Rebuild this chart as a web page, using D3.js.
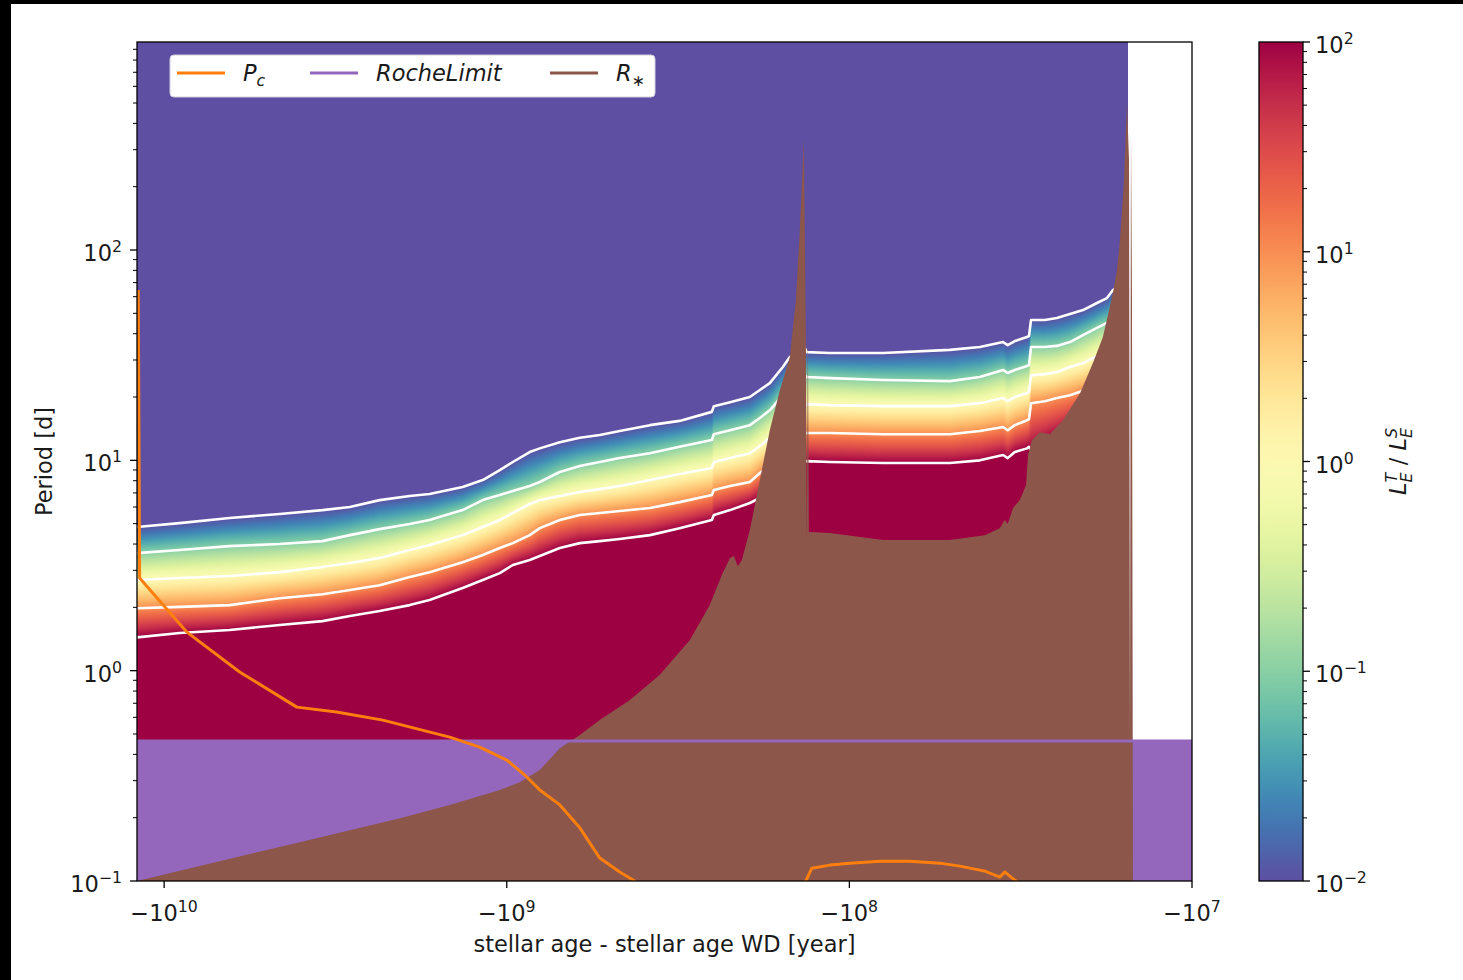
<!DOCTYPE html>
<html>
<head>
<meta charset="utf-8">
<script src="https://cdn.jsdelivr.net/npm/d3@7"></script>
<style>
  html, body { margin: 0; padding: 0; background: #fff; }
  svg { display: block; font-family: "DejaVu Sans", sans-serif; }
</style>
</head>
<body>
<svg id="chart" width="1463" height="980"></svg>
<script>
// ---- data -------------------------------------------------------------
// stellar age minus WD formation age [yr] at which the luminosity-ratio contours are sampled
const gridAges = [-1.20e10,-9.01e9,-6.44e9,-4.60e9,-3.45e9,-2.87e9,-2.35e9,-1.92e9,-1.68e9,-1.345e9,
  -1.175e9,-1.048e9,-9.60e8,-8.57e8,-8.01e8,-7.00e8,-6.12e8,-5.35e8,-4.68e8,-3.82e8,
  -3.13e8,-2.52e8,-2.486e8,-2.23e8,-1.952e8,-1.825e8,-1.707e8,-1.564e8,-1.492e8,-1.395e8,
  -1.349e8,-1.331e8,-1.140e8,-7.98e7,-5.09e7,-4.16e7,-3.56e7,-3.45e7,-3.29e7,-3.03e7,
  -2.99e7,-2.95e7,-2.69e7,-2.48e7,-2.27e7,-2.08e7,-1.894e7,-1.771e7,-1.701e7,-1.623e7,-1.538e7];

// contour levels of L_E^T / L_E^S
const ratioLevels = [1e-2, 1e-1, 1e0, 1e1, 1e2];

// orbital period [d] of each contour level along gridAges
const periodRatio1em2 = [4.82,5.03,5.32,5.56,5.80,6.00,6.47,6.77,6.92,7.47,
  8.06,8.99,9.82,10.95,11.4,12.2,12.8,13.2,13.8,14.7,
  15.4,17.0,18.1,18.9,20.0,21.6,23.3,27.8,31.0,33.5,
  34.2,32.7,32.4,32.4,33.5,34.6,36.5,35.3,36.9,38.6,
  39.0,46.5,46.5,47.5,49.6,51.8,56.0,59.1,64.5,68.2,72.0];
const periodRatio1em1 = [3.62,3.75,3.91,4.00,4.13,4.41,4.71,4.98,5.20,5.80,
  6.47,6.84,7.15,7.55,7.89,8.80,9.40,9.82,10.25,10.8,
  11.6,12.5,13.3,13.9,14.7,15.9,17.3,20.4,22.3,24.1,
  25.2,24.9,24.6,24.1,23.8,24.9,26.9,26.0,26.9,28.1,
  28.4,34.6,34.6,35.0,36.5,39.4,42.6,45.0,47.5,50.7,53.6];
const periodRatio1e0 = [2.70,2.76,2.82,2.94,3.11,3.25,3.43,3.75,3.96,4.41,
  4.82,5.20,5.62,6.20,6.47,6.77,7.07,7.30,7.55,8.06,
  8.61,9.19,9.82,10.25,10.8,11.7,12.8,14.7,16.1,17.3,
  18.3,18.5,18.3,18.1,18.1,18.7,19.8,19.1,20.0,20.9,
  21.1,25.4,25.7,26.3,27.8,29.0,31.3,33.5,35.3,37.3,39.4];
const periodRatio1e1 = [1.98,2.01,2.05,2.21,2.31,2.42,2.55,2.79,2.94,3.28,
  3.55,3.83,4.04,4.41,4.76,5.20,5.50,5.62,5.74,5.93,
  6.33,6.84,7.22,7.55,7.89,8.70,9.40,10.6,11.6,12.5,
  13.3,13.5,13.5,13.3,13.3,13.8,14.4,13.9,14.7,15.5,
  15.7,18.7,19.1,19.8,20.4,21.4,23.1,24.6,26.0,27.5,29.0];
const periodRatio1e2 = [1.44,1.51,1.56,1.65,1.72,1.82,1.92,2.05,2.17,2.47,
  2.70,2.91,3.18,3.36,3.51,3.83,4.04,4.13,4.23,4.41,
  4.76,5.20,5.50,5.80,6.27,6.62,7.07,7.80,8.42,8.99,
  9.82,9.92,9.82,9.71,9.71,10.0,10.6,10.25,10.95,11.4,
  11.6,11.2,12.2,13.05,14.25,15.4,16.6,17.7,18.7,19.8,20.9];

// orbital period at the stellar surface, R_*
const rStarAges = [-1.20e10,-7.88e9,-4.02e9,-2.05e9,-1.467e9,-1.048e9,-9.16e8,-8.01e8,-7.00e8,-6.12e8,
  -5.35e8,-4.37e8,-3.58e8,-2.92e8,-2.555e8,-2.357e8,-2.23e8,-2.174e8,-2.116e8,-2.06e8,
  -1.952e8,-1.825e8,-1.707e8,-1.595e8,-1.492e8,-1.433e8,-1.395e8,-1.358e8,-1.340e8,-1.331e8,
  -1.322e8,-1.313e8,-1.140e8,-7.98e7,-5.09e7,-4.02e7,-3.64e7,-3.52e7,-3.45e7,-3.33e7,
  -3.18e7,-3.05e7,-3.01e7,-2.93e7,-2.78e7,-2.60e7,-2.38e7,-2.12e7,-1.946e7,-1.82e7,
  -1.701e7,-1.656e7,-1.623e7,-1.579e7,-1.548e7,-1.527e7,-1.517e7,-1.507e7,-1.497e7,-1.487e7];
const rStarPeriod = [0.1,0.1177,0.153,0.199,0.2296,0.271,0.295,0.337,0.428,0.494,
  0.582,0.725,0.953,1.40,2.05,2.85,3.43,3.51,3.14,3.36,
  4.66,8.06,13.9,21.6,31.0,57.8,124.5,334,41.7,4.18,
  43.0,4.56,4.51,4.18,4.18,4.41,4.76,5.20,4.98,5.93,
  6.47,7.63,10.6,12.5,13.6,13.3,15.5,20.9,29.0,38.6,
  62.4,80.3,111.6,215,500,268,0.494,372,59.8,0.1];

// critical period P_c
const pcAges = [-1.19e10,-1.179e10,-8.60e9,-6.02e9,-4.10e9,-3.14e9,-2.30e9,-1.467e9,-1.199e9,-1.0e9,
  -8.86e8,-8.01e8,-7.00e8,-6.12e8,-5.35e8,-4.68e8,-4.23e8,-3.0e8,-2.0e8,-1.5e8,
  -1.340e8,-1.287e8,-1.140e8,-9.97e7,-8.14e7,-6.66e7,-5.44e7,-4.76e7,-4.02e7,-3.64e7,
  -3.52e7,-3.40e7,-3.18e7,-2.8e7];
const pcPeriod = [64.5,2.76,1.53,0.985,0.671,0.636,0.582,0.483,0.433,0.376,
  0.319,0.271,0.230,0.179,0.1285,0.1103,0.1,0.06,0.07,0.09,
  0.1,0.1151,0.1190,0.1216,0.1243,0.1243,0.1216,0.1177,0.1114,0.1043,
  0.1103,0.1055,0.0967,0.085];

// Roche limit
const rocheAges = [-1.2e10, -1e7];
const rochePeriod = [0.463, 0.463];

// axis ticks
const xTickValues = [-1e10, -1e9, -1e8, -1e7];
const xTickExponents = ["10", "9", "8", "7"];
const yTickValues = [0.1, 1, 10, 100];
const yTickExponents = ["\u22121", "0", "1", "2"];
const cbTickValues = [1e-2, 1e-1, 1e0, 1e1, 1e2];
const cbTickExponents = ["\u22122", "\u22121", "0", "1", "2"];

// ---- layout -------------------------------------------------------------
const W = 1463, H = 980;
const M = { left: 137, right: 1192, top: 42, bottom: 881 };
const CB = { left: 1259, right: 1303, top: 42, bottom: 881 };
const FS = 22.5;
const SMALL = FS * 0.7;

const C = { pc: "#ff7f0e", roche: "#9467bd", rstar: "#8c564b" };

const x = d3.scaleLog().domain([-1.2e10, -1e7]).range([M.left, M.right]);
const y = d3.scaleLog().domain([0.1, 975]).range([M.bottom, M.top]);
const cbY = d3.scaleLog().domain([1e-2, 1e2]).range([CB.bottom, CB.top]);
const colorScale = d3.scaleSequentialLog(t => d3.interpolateSpectral(1 - t)).domain([1e-2, 1e2]);

const svg = d3.select("#chart");
svg.append("rect").attr("width", W).attr("height", H).attr("fill", "#fff");
// dark frame strips along the left and top edges
svg.append("rect").attr("x", 0).attr("y", 0).attr("width", 11).attr("height", H).attr("fill", "#000");
svg.append("rect").attr("x", 0).attr("y", 0).attr("width", W).attr("height", 4).attr("fill", "#000");

const defs = svg.append("defs");
defs.append("clipPath").attr("id", "plotClip")
  .append("rect").attr("x", M.left).attr("y", M.top)
  .attr("width", M.right - M.left).attr("height", M.bottom - M.top);

// ---- heat map of the luminosity ratio ----------------------------------
const contours = [periodRatio1em2, periodRatio1em1, periodRatio1e0, periodRatio1e1, periodRatio1e2];
const logLevels = ratioLevels.map(Math.log10);
const colX = gridAges.map(a => x(a));
const hx0 = Math.floor(colX[0]);
const hx1 = Math.ceil(colX[colX.length - 1]);
const hw = hx1 - hx0, hh = M.bottom - M.top;
const canvas = document.createElement("canvas");
canvas.width = hw; canvas.height = hh;
const ctx = canvas.getContext("2d");
const img = ctx.createImageData(hw, hh);
const lut = d3.range(1001).map(i => d3.rgb(colorScale(Math.pow(10, -2 + 4 * i / 1000))));
let seg = 0;
for (let px = 0; px < hw; px++) {
  const cx = hx0 + px + 0.5;
  while (seg < colX.length - 2 && cx > colX[seg + 1]) seg++;
  const f = Math.max(0, Math.min(1, (cx - colX[seg]) / (colX[seg + 1] - colX[seg])));
  const ys = contours.map(c => { const a = y(c[seg]), b = y(c[seg + 1]); return a + (b - a) * f; });
  const level = d3.scaleLinear().domain(ys).range(logLevels).clamp(true);
  for (let py = 0; py < hh; py++) {
    const v = level(M.top + py + 0.5);
    const col = lut[Math.round((v + 2) / 4 * 1000)];
    const k = (py * hw + px) * 4;
    img.data[k] = col.r; img.data[k + 1] = col.g; img.data[k + 2] = col.b; img.data[k + 3] = 255;
  }
}
ctx.putImageData(img, 0, 0);

const plot = svg.append("g").attr("clip-path", "url(#plotClip)");
plot.append("image")
  .attr("href", canvas.toDataURL())
  .attr("x", hx0).attr("y", M.top).attr("width", hw).attr("height", hh)
  .attr("preserveAspectRatio", "none");

// white contour lines
const contourLine = d3.line().x((d, i) => x(gridAges[i])).y(d => y(d));
contours.forEach(c => {
  plot.append("path").attr("d", contourLine(c))
    .attr("fill", "none").attr("stroke", "#fff").attr("stroke-width", 2.6)
    .attr("stroke-linejoin", "round");
});

// Roche limit region
const rocheArea = d3.area().x((d, i) => x(rocheAges[i])).y0(M.bottom).y1(d => y(d));
plot.append("path").attr("d", rocheArea(rochePeriod)).attr("fill", C.roche);

// stellar radius region
const rArea = d3.area().x((d, i) => x(rStarAges[i])).y0(M.bottom).y1(d => y(d));
plot.append("path").attr("d", rArea(rStarPeriod)).attr("fill", C.rstar);

// Roche limit line
const rocheLine = d3.line().x((d, i) => x(rocheAges[i])).y(d => y(d));
plot.append("path").attr("d", rocheLine(rochePeriod))
  .attr("fill", "none").attr("stroke", C.roche).attr("stroke-width", 2.8);

// critical period
const pcLine = d3.line().x((d, i) => x(pcAges[i])).y(d => y(d));
plot.append("path").attr("d", pcLine(pcPeriod))
  .attr("fill", "none").attr("stroke", C.pc).attr("stroke-width", 3)
  .attr("stroke-linejoin", "round");

// frame
svg.append("rect").attr("x", M.left).attr("y", M.top)
  .attr("width", M.right - M.left).attr("height", M.bottom - M.top)
  .attr("fill", "none").attr("stroke", "#000").attr("stroke-width", 1.3);

// ---- axes ----------------------------------------------------------------
function powText(sel, base, exp) {
  sel.append("tspan").text(base);
  sel.append("tspan").attr("dy", -9).attr("font-size", SMALL + "px").text(exp);
}

const axes = svg.append("g").attr("font-size", FS + "px").attr("fill", "#1a1a1a");

// x ticks
xTickValues.forEach((v, i) => {
  const tx = x(v);
  axes.append("line").attr("x1", tx).attr("x2", tx).attr("y1", M.bottom).attr("y2", M.bottom + 7)
    .attr("stroke", "#000").attr("stroke-width", 1.3);
  const t = axes.append("text").attr("x", tx).attr("y", M.bottom + 40).attr("text-anchor", "middle");
  powText(t, "\u221210", xTickExponents[i]);
});

// y ticks (major + minor)
yTickValues.forEach((v, i) => {
  const ty = y(v);
  axes.append("line").attr("x1", M.left - 7).attr("x2", M.left).attr("y1", ty).attr("y2", ty)
    .attr("stroke", "#000").attr("stroke-width", 1.3);
  const t = axes.append("text").attr("x", M.left - 15).attr("y", ty + 11).attr("text-anchor", "end");
  powText(t, "10", yTickExponents[i]);
});
yTickValues.forEach(v => {
  for (let m = 2; m <= 9; m++) {
    const mv = v * m;
    if (mv > y.domain()[1]) continue;
    const ty = y(mv);
    axes.append("line").attr("x1", M.left - 4).attr("x2", M.left).attr("y1", ty).attr("y2", ty)
      .attr("stroke", "#000").attr("stroke-width", 1);
  }
});

// axis titles
axes.append("text").attr("x", (M.left + M.right) / 2).attr("y", 952).attr("text-anchor", "middle")
  .text("stellar age - stellar age WD [year]");
axes.append("text").attr("transform", `translate(52,${(M.top + M.bottom) / 2}) rotate(-90)`)
  .attr("text-anchor", "middle").text("Period [d]");

// ---- colour bar ------------------------------------------------------------
const grad = defs.append("linearGradient").attr("id", "cbGrad")
  .attr("x1", 0).attr("y1", 1).attr("x2", 0).attr("y2", 0);
d3.range(0, 1.0001, 0.02).forEach(t => {
  grad.append("stop").attr("offset", t).attr("stop-color", colorScale(Math.pow(10, -2 + 4 * t)));
});
svg.append("rect").attr("x", CB.left).attr("y", CB.top)
  .attr("width", CB.right - CB.left).attr("height", CB.bottom - CB.top)
  .attr("fill", "url(#cbGrad)").attr("stroke", "#000").attr("stroke-width", 1.3);

cbTickValues.forEach((v, i) => {
  const ty = cbY(v);
  axes.append("line").attr("x1", CB.right).attr("x2", CB.right + 7).attr("y1", ty).attr("y2", ty)
    .attr("stroke", "#000").attr("stroke-width", 1.3);
  const t = axes.append("text").attr("x", CB.right + 12).attr("y", ty + 11).attr("text-anchor", "start");
  powText(t, "10", cbTickExponents[i]);
});
cbTickValues.slice(0, -1).forEach(v => {
  for (let m = 2; m <= 9; m++) {
    const ty = cbY(v * m);
    axes.append("line").attr("x1", CB.right).attr("x2", CB.right + 4).attr("y1", ty).attr("y2", ty)
      .attr("stroke", "#000").attr("stroke-width", 1);
  }
});

// colour bar title  L_E^T / L_E^S
const cbt = axes.append("text")
  .attr("transform", `translate(1406,${(CB.top + CB.bottom) / 2}) rotate(-90)`)
  .attr("text-anchor", "middle").attr("font-style", "italic");
cbt.append("tspan").text("L");
cbt.append("tspan").attr("font-size", SMALL + "px").attr("dy", -9).text("T");
cbt.append("tspan").attr("font-size", SMALL + "px").attr("dx", -9.6).attr("dy", 15).text("E");
cbt.append("tspan").attr("dy", -6).attr("font-style", "normal").text(" / ");
cbt.append("tspan").text("L");
cbt.append("tspan").attr("font-size", SMALL + "px").attr("dy", -9).text("S");
cbt.append("tspan").attr("font-size", SMALL + "px").attr("dx", -10).attr("dy", 15).text("E");

// ---- legend ----------------------------------------------------------------
const legend = svg.append("g").attr("font-size", FS + "px").attr("fill", "#1a1a1a");
legend.append("rect").attr("x", 170).attr("y", 55).attr("width", 485).attr("height", 42)
  .attr("rx", 4).attr("fill", "#fff").attr("stroke", "#d0d0d8").attr("stroke-width", 1);

const legendItems = [
  { color: C.pc, x: 177, base: "P", sub: "c" },
  { color: C.roche, x: 310, base: "RocheLimit", sub: null },
  { color: C.rstar, x: 550, base: "R", sub: "\u2217" }
];
legendItems.forEach(it => {
  legend.append("line").attr("x1", it.x).attr("x2", it.x + 48).attr("y1", 73).attr("y2", 73)
    .attr("stroke", it.color).attr("stroke-width", 2.8);
  const t = legend.append("text").attr("x", it.x + 66).attr("y", 81).attr("font-style", "italic");
  t.append("tspan").text(it.base);
  if (it.sub) t.append("tspan").attr("dy", 5).attr("font-size", SMALL + "px").text(it.sub);
});
</script>
</body>
</html>
